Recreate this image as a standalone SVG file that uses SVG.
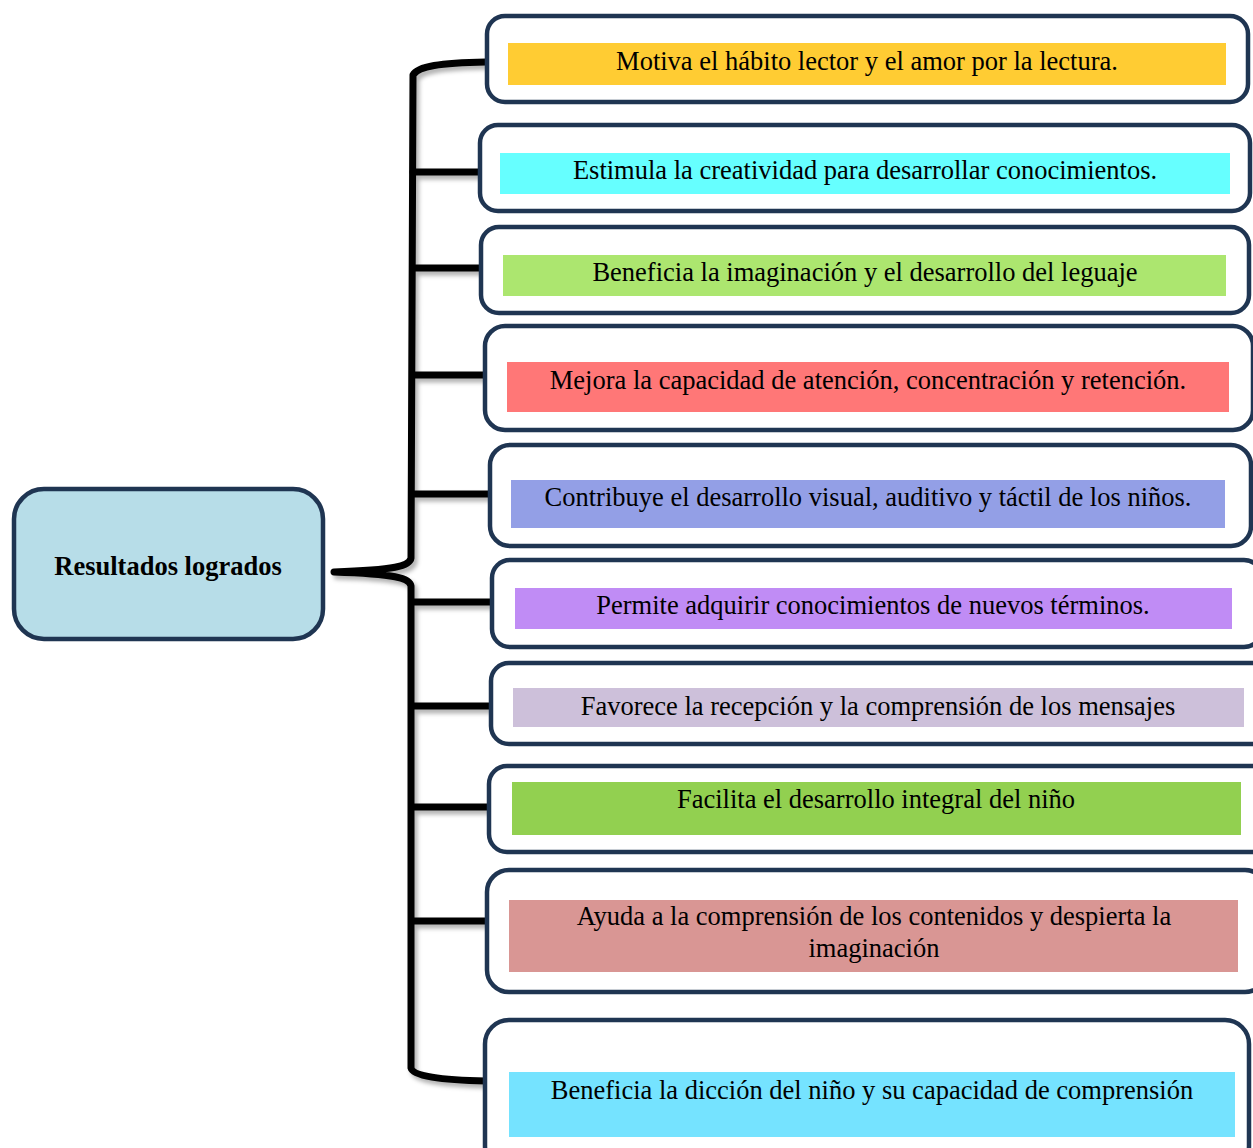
<svg xmlns="http://www.w3.org/2000/svg" width="1253" height="1148" viewBox="0 0 1253 1148">
<style>
.box{fill:#ffffff;stroke:#1f3552;stroke-width:4.5}
.t{font-family:"Liberation Serif","Times New Roman",serif;font-size:26.5px;fill:#000;text-anchor:middle}
.c{fill:none;stroke:#000;stroke-width:7;stroke-linecap:round;stroke-linejoin:round}
</style>
<defs>
<filter id="sh" x="-20%" y="-5%" width="140%" height="110%">
<feDropShadow dx="3" dy="4" stdDeviation="2" flood-color="#000" flood-opacity="0.3"/>
</filter>
</defs>
<rect width="1253" height="1148" fill="#ffffff"/>
<g id="connectors" filter="url(#sh)">
<path class="c" d="M486,62 C440,63 418,66 413,75 L411,558 C410,566 395,570 334,572 C395,574 410,578 411,586 L411,1068 C413,1076 440,1080 486,1081"/>
<path class="c" d="M413,172 H480"/>
<path class="c" d="M413,268 H481"/>
<path class="c" d="M413,375 H485"/>
<path class="c" d="M413,494 H490"/>
<path class="c" d="M413,602 H492"/>
<path class="c" d="M413,706 H491"/>
<path class="c" d="M413,807 H489"/>
<path class="c" d="M413,921 H487"/>
</g>
<g id="center">
<rect x="14" y="489" width="309" height="150" rx="30" fill="#b7dde8" stroke="#1f3552" stroke-width="4.5"/>
<text x="168" y="575" class="t" style="font-weight:bold">Resultados logrados</text>
</g>
<g id="n1">
<rect class="box" x="487" y="16" width="761" height="86" rx="18"/>
<rect x="508" y="43" width="718" height="42" fill="#ffcc33"/>
<text x="867" y="70" class="t">Motiva el hábito lector y el amor por la lectura.</text>
</g>
<g id="n2">
<rect class="box" x="480" y="125" width="770" height="86" rx="18"/>
<rect x="500" y="153" width="730" height="41" fill="#66ffff"/>
<text x="865" y="179" class="t">Estimula la creatividad para desarrollar conocimientos.</text>
</g>
<g id="n3">
<rect class="box" x="481" y="227" width="768" height="86" rx="18"/>
<rect x="503" y="255" width="723" height="41" fill="#ace66f"/>
<text x="865" y="281" class="t">Beneficia la imaginación y el desarrollo del leguaje</text>
</g>
<g id="n4">
<rect class="box" x="485" y="326" width="768" height="104" rx="20"/>
<rect x="507" y="362" width="722" height="50" fill="#ff7777"/>
<text x="868" y="389" class="t">Mejora la capacidad de atención, concentración y retención.</text>
</g>
<g id="n5">
<rect class="box" x="490" y="445" width="761" height="101" rx="20"/>
<rect x="511" y="480" width="714" height="48" fill="#939fe6"/>
<text x="868" y="506" class="t">Contribuye el desarrollo visual, auditivo y táctil de los niños.</text>
</g>
<g id="n6">
<rect class="box" x="492" y="560" width="770" height="87" rx="18"/>
<rect x="515" y="588" width="717" height="41" fill="#c08cf5"/>
<text x="873" y="614" class="t">Permite adquirir conocimientos de nuevos términos.</text>
</g>
<g id="n7">
<rect class="box" x="491" y="663" width="780" height="81" rx="18"/>
<rect x="513" y="688" width="731" height="39" fill="#cdc0da"/>
<text x="878" y="715" class="t">Favorece la recepción y la comprensión de los mensajes</text>
</g>
<g id="n8">
<rect class="box" x="489" y="766" width="780" height="86" rx="18"/>
<rect x="512" y="782" width="729" height="53" fill="#92d050"/>
<text x="876" y="808" class="t">Facilita el desarrollo integral del niño</text>
</g>
<g id="n9">
<rect class="box" x="487" y="870" width="780" height="122" rx="22"/>
<rect x="509" y="900" width="729" height="72" fill="#d99694"/>
<text x="874" y="925" class="t">Ayuda a la comprensión de los contenidos y despierta la</text>
<text x="874" y="957" class="t">imaginación</text>
</g>
<g id="n10">
<rect class="box" x="485" y="1020" width="764" height="150" rx="24"/>
<rect x="509" y="1072" width="726" height="65" fill="#75e3ff"/>
<text x="872" y="1099" class="t">Beneficia la dicción del niño y su capacidad de comprensión</text>
</g>
</svg>
